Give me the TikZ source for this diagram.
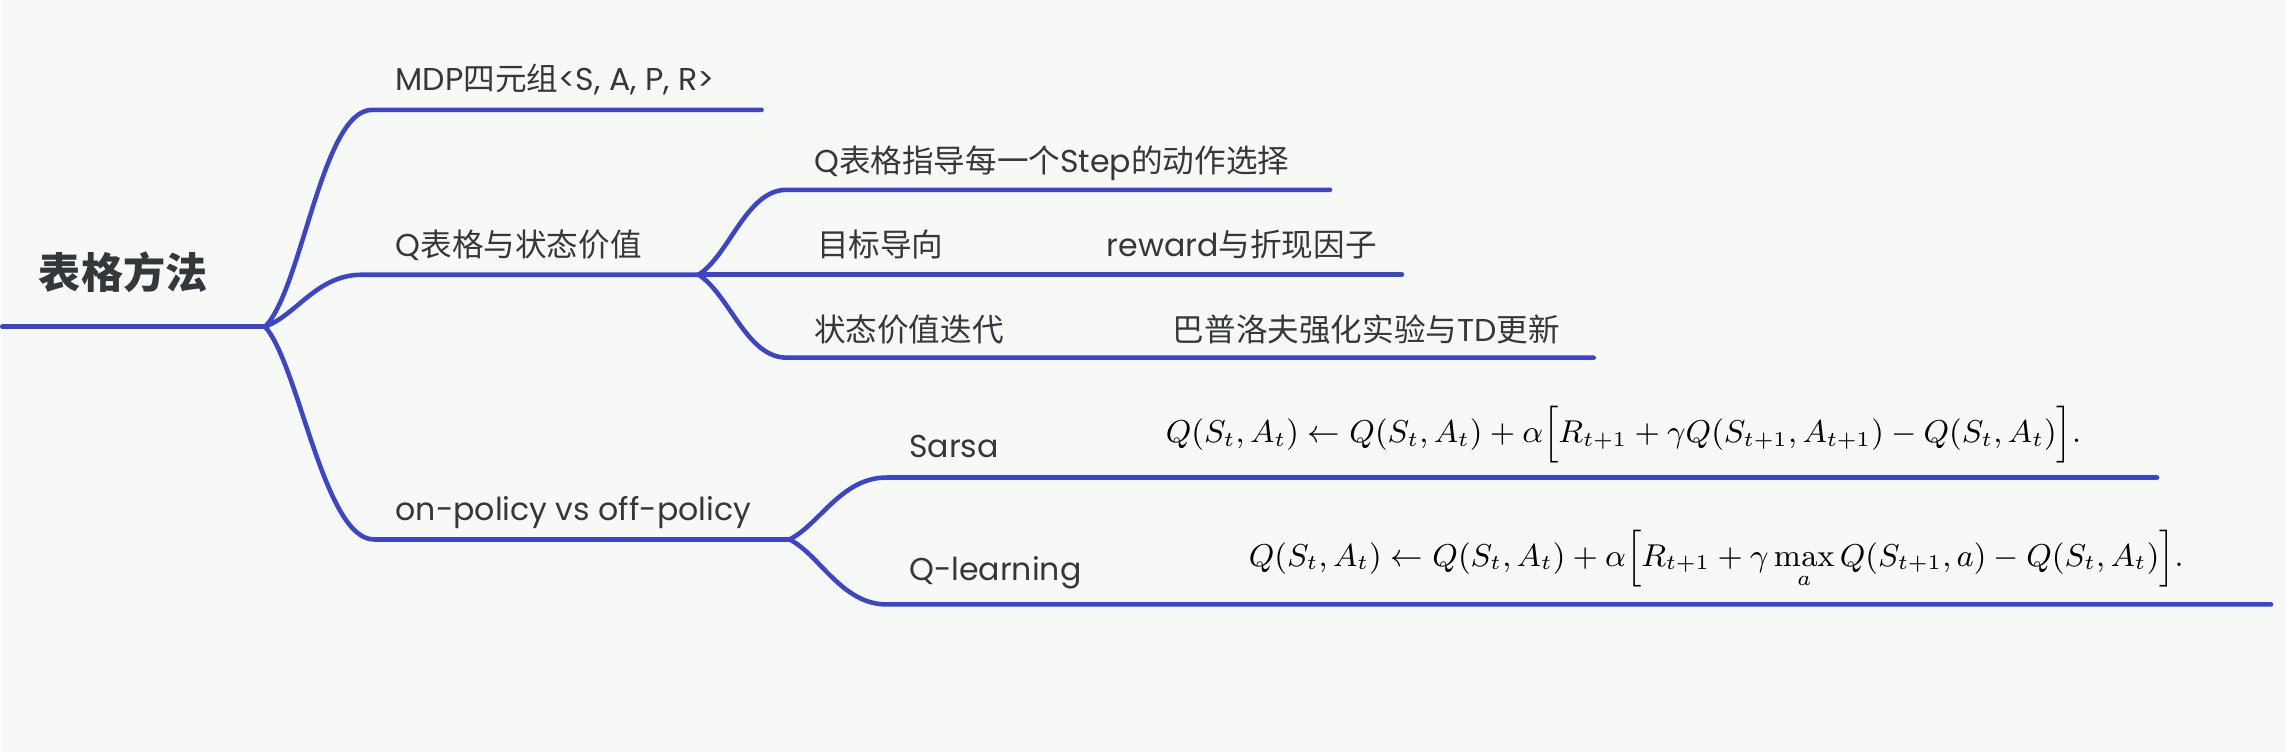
\documentclass[tikz,border=0pt]{standalone}
\usepackage{amsmath}
\usepackage[no-math]{fontspec}
\setmainfont{Poppins}
\newfontfamily\cjk{Noto Sans CJK SC}
\definecolor{mapblue}{RGB}{60,68,200}
\definecolor{maptext}{RGB}{52,56,60}
\definecolor{mapbg}{RGB}{246,249,246}

\begin{document}
\begin{tikzpicture}[x=0.1mm,y=-0.1mm,font=\fontsize{9}{11}\selectfont,
  branch/.style={mapblue,line width=1.3pt,line cap=round},
  lbl/.style={anchor=west,inner sep=0pt,text=maptext},
  eqn/.style={anchor=base west,inner sep=0pt,font=\fontsize{8.8}{10}\selectfont}]
  \fill[mapbg] (0,0) rectangle (2286,753);
  % root and first level
  \node[lbl,font=\fontsize{12}{14}\selectfont\cjk\bfseries] (root) at (36,273) {表格方法};
  \coordinate (r0) at (0,327);
  \coordinate (fork) at (263,327);
  \node[lbl] (mdp) at (393,80) {MDP{\cjk 四元组}<S, A, P, R>};
  \node[lbl] (qtab) at (393,245) {Q{\cjk 表格与状态价值}};
  \node[lbl] (policy) at (393,513) {on-policy vs off-policy};
  \coordinate (mdp-s) at (370,110);  \coordinate (mdp-e) at (760,110);
  \coordinate (qtab-s) at (360,275); \coordinate (qf) at (697,275);
  \coordinate (pol-s) at (372,540);  \coordinate (pf) at (788,540);
  \draw[branch] (r0) -- (fork);
  \draw[branch] (fork) .. controls (300,290) and (320,110) .. (mdp-s) -- (mdp-e);
  \draw[branch] (fork) .. controls (295,315) and (315,275) .. (qtab-s) -- (qf);
  \draw[branch] (fork) .. controls (297,365) and (322,540) .. (pol-s) -- (pf);
  % Q table children
  \node[lbl] (step) at (812,163) {Q{\cjk 表格指导每一个}Step{\cjk 的动作选择}};
  \node[lbl] (goal) at (815,245) {\cjk 目标导向};
  \node[lbl] (reward) at (1105,245) {reward{\cjk 与折现因子}};
  \node[lbl] (iter) at (812,330) {\cjk 状态价值迭代};
  \node[lbl] (pavlov) at (1171,330) {{\cjk 巴普洛夫强化实验与}TD{\cjk 更新}};
  \coordinate (step-s) at (785,190); \coordinate (step-e) at (1329,190);
  \coordinate (goal-e) at (1401,275);
  \coordinate (iter-s) at (785,358); \coordinate (iter-e) at (1593,358);
  \draw[branch] (qf) .. controls (728,255) and (745,190) .. (step-s) -- (step-e);
  \draw[branch] (qf) -- (goal-e);
  \draw[branch] (qf) .. controls (728,295) and (745,358) .. (iter-s) -- (iter-e);
  % policy children
  \node[lbl] (sarsa) at (907,447) {Sarsa};
  \node[lbl] (qlearn) at (907,573) {Q-learning};
  \node[eqn] (sarsa-eq) at (1164,443) {$Q(S_t,A_t)\leftarrow Q(S_t,A_t)+\alpha\Big[R_{t+1}+\gamma Q(S_{t+1},A_{t+1})-Q(S_t,A_t)\Big].$};
  \node[eqn] (qlearn-eq) at (1247,567) {$Q(S_t,A_t)\leftarrow Q(S_t,A_t)+\alpha\Big[R_{t+1}+\gamma\max\limits_a Q(S_{t+1},a)-Q(S_t,A_t)\Big].$};
  \coordinate (sarsa-s) at (885,478); \coordinate (sarsa-e) at (2157,478);
  \coordinate (ql-s) at (885,605);    \coordinate (ql-e) at (2271,605);
  \draw[branch] (pf) .. controls (818,525) and (840,478) .. (sarsa-s) -- (sarsa-e);
  \draw[branch] (pf) .. controls (818,555) and (840,605) .. (ql-s) -- (ql-e);
\end{tikzpicture}
\end{document}
